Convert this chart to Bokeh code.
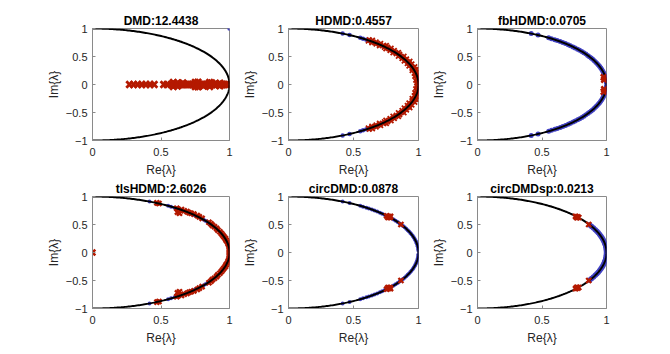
import numpy as np
from bokeh.plotting import figure
from bokeh.layouts import gridplot
from bokeh.models import Range1d, FixedTicker
from bokeh.embed import file_html
from bokeh.resources import INLINE

# ---------------- data ----------------
titles = ["DMD:12.4438", "HDMD:0.4557", "fbHDMD:0.0705",
          "tlsHDMD:2.6026", "circDMD:0.0878", "circDMDsp:0.0213"]
x_ticks = [0, 0.5, 1]
y_ticks = [-1, -0.5, 0, 0.5, 1]

# true eigenvalues (upper half-plane angles, degrees; conjugates mirrored)
true_ang_deg = [65.4, 62.0, 56.5, 55.0, 53.2, 51.8, 50.1, 48.6, 47.0, 45.3, 43.9,
                42.2, 40.8, 39.1, 37.6, 36.0, 34.5, 32.9, 31.3, 29.8, 28.2, 26.7,
                25.1, 23.5, 22.0, 20.4, 18.9, 17.3, 15.7, 14.2, 12.6, 11.1, 9.5,
                7.9, 6.4, 4.8, 3.3, 1.7]
sp_ang_deg = [29.5, 27.8, 26.0, 24.1, 22.3, 20.6, 18.7, 16.9, 15.2, 13.4, 11.6,
              9.8, 8.1, 6.3, 4.5, 2.8, 1.0]
dmd_true_re = [1.0]
dmd_true_im = [1.0]

# DMD estimates
dmd_re = [0.27, 0.30, 0.33, 0.36, 0.39, 0.42, 0.45, 0.52, 0.545, 0.575, 0.59, 0.60,
          0.61, 0.62, 0.635, 0.65, 0.66, 0.675, 0.69, 0.70, 0.715, 0.73, 0.745,
          0.755, 0.765, 0.775, 0.79, 0.80, 0.815, 0.83, 0.84, 0.855, 0.865, 0.875,
          0.89, 0.905, 0.92, 0.935, 0.95, 0.965, 0.98, 0.99,
          0.59, 0.59, 0.62, 0.62, 0.66, 0.75, 0.75, 0.77, 0.77, 0.81, 0.855, 0.855,
          0.87, 0.93, 0.93]
dmd_im = [0.0] * 42 + [0.035, -0.035, 0.03, -0.03, 0.03, 0.035, -0.035, 0.04, -0.04,
                       -0.03, 0.035, -0.035, 0.03, 0.025, -0.025]

# HDMD estimates (upper half: angle deg, radius)
hdmd_ang = [52.3, 51.6, 50.8, 50.1, 49.3, 48.5, 47.8, 47.0, 46.1, 45.4, 44.6, 43.7,
            42.9, 42.0, 41.2, 40.3, 39.5, 38.6, 37.7, 36.9, 36.0, 35.1, 34.2, 33.3,
            32.4, 31.5, 30.6, 29.7, 28.8, 27.8, 26.9, 26.0, 25.0, 24.1, 23.1, 22.2,
            21.2, 20.3, 19.3, 18.3, 17.3, 16.4, 15.4, 14.4, 13.4, 12.4, 11.4, 10.4,
            9.4, 8.4, 7.3, 6.3, 5.3, 4.3, 3.2, 2.2, 1.2, 0.3]
hdmd_rad = [1.015, 0.985, 1.025, 1.000, 0.980, 1.020, 1.005, 0.985, 1.025, 1.000,
            0.980, 1.015, 1.030, 0.990, 1.015, 0.980, 1.025, 1.000, 0.985, 1.020,
            1.005, 0.980, 1.025, 0.990, 1.015, 1.000, 0.980, 1.025, 1.005, 0.985,
            1.020, 1.000, 0.980, 1.025, 1.010, 0.985, 1.020, 1.000, 0.980, 1.025,
            1.005, 0.990, 1.020, 0.980, 1.025, 1.000, 0.985, 1.020, 1.005, 0.980,
            1.025, 0.990, 1.015, 0.980, 1.025, 1.000, 0.985, 1.020]

# fbHDMD estimates
fb_re = [0.978, 0.982, 0.982, 0.978]
fb_im = [0.130, 0.085, -0.085, -0.130]

# tlsHDMD estimates (upper half; conjugates mirrored) + origin
tls_re = [0.47, 0.485, 0.615, 0.625, 0.62, 0.635, 0.65, 0.67, 0.69, 0.705, 0.72,
          0.74, 0.765, 0.78, 0.80, 0.85, 0.865, 0.875, 0.89, 0.905, 0.915, 0.93,
          0.94, 0.95, 0.96, 0.97, 0.975, 0.985, 0.99, 0.995, 1.0, 1.0, 1.0, 1.0]
tls_im = [0.885, 0.875, 0.79, 0.765, 0.72, 0.70, 0.765, 0.745, 0.73, 0.71, 0.70,
          0.685, 0.66, 0.635, 0.61, 0.54, 0.51, 0.485, 0.46, 0.43, 0.40, 0.37,
          0.34, 0.31, 0.28, 0.25, 0.22, 0.19, 0.16, 0.13, 0.10, 0.07, 0.04, 0.015]
tls_origin_re = [0.0]
tls_origin_im = [0.0]

# circDMD / circDMDsp estimates (upper half; conjugates mirrored)
circ_re = [0.755, 0.77, 0.78, 0.765, 0.785, 0.865]
circ_im = [0.655, 0.64, 0.625, 0.625, 0.645, 0.50]
circsp_re = [0.76, 0.775, 0.785, 0.77, 0.862]
circsp_im = [0.645, 0.635, 0.625, 0.62, 0.50]

# ---------------- styling ----------------
RED = "#b41900"
BLUE = "#4242c4"
AXC = "#8a8a8a"
TXT = "#262626"
FONT = "Liberation Sans"


def conj(re, im):
    return list(re) + list(re), list(im) + [-v for v in im]


def polar(ang, rad=None):
    a = np.deg2rad(np.asarray(ang, dtype=float))
    r = np.ones_like(a) if rad is None else np.asarray(rad, dtype=float)
    return conj(r * np.cos(a), r * np.sin(a))


theta = np.linspace(-np.pi / 2, np.pi / 2, 300)
circ_x = np.cos(theta)
circ_y = np.sin(theta)

FRAME_W = 137
FRAME_HS = [115, 117]
LEFTS = [92, 42, 41]
TOPS = [28, 15]
BOTTOMS = [36, 36]
RIGHT = 10


def make_fig(i):
    row, col = divmod(i, 3)
    L, T, B = LEFTS[col], TOPS[row], BOTTOMS[row]
    p = figure(width=L + FRAME_W + RIGHT, height=T + FRAME_HS[row] + B,
               x_range=Range1d(0, 1), y_range=Range1d(-1, 1),
               output_backend="svg", toolbar_location=None,
               min_border_left=L, min_border_right=RIGHT,
               min_border_top=T, min_border_bottom=B,
               title=titles[i])
    p.title.text_font = FONT
    p.title.text_font_size = "12px"
    p.title.text_font_style = "bold"
    p.title.text_color = "black"
    p.title.align = "center"
    p.title.standoff = 1
    p.title.offset = 0
    p.xgrid.visible = False
    p.ygrid.visible = False
    p.outline_line_color = AXC
    p.outline_line_alpha = 1.0
    p.xaxis.ticker = FixedTicker(ticks=x_ticks)
    p.yaxis.ticker = FixedTicker(ticks=y_ticks)
    p.xaxis.axis_label = "Re{λ}"
    p.yaxis.axis_label = "Im{λ}"
    for ax in (p.xaxis[0], p.yaxis[0]):
        ax.axis_label_text_font = FONT
        ax.axis_label_text_font_size = "12px"
        ax.axis_label_text_font_style = "normal"
        ax.axis_label_text_color = TXT
        ax.major_label_text_font = FONT
        ax.major_label_text_font_size = "11px"
        ax.major_label_text_color = TXT
        ax.axis_line_color = AXC
        ax.major_tick_line_color = AXC
        ax.major_tick_in = 3
        ax.major_tick_out = 0
        ax.minor_tick_line_color = None
    p.xaxis.major_label_standoff = 7
    p.xaxis.axis_label_standoff = 4
    p.yaxis.major_label_standoff = 5
    p.yaxis.axis_label_standoff = 2
    return p


figs = [make_fig(i) for i in range(6)]


def blue(p, x, y, size=4.5):
    p.scatter(x, y, marker="circle", size=size, fill_color=BLUE, line_color=None)


def red(p, x, y, size=8, lw=2.5):
    p.scatter(x, y, marker="x", size=size, line_color=RED, line_width=lw)


def curve(p):
    p.line(circ_x, circ_y, line_color="black", line_width=2)


tx, ty = polar(true_ang_deg)
sx, sy = polar(sp_ang_deg)

# 1 DMD
blue(figs[0], dmd_true_re, dmd_true_im)
red(figs[0], dmd_re, dmd_im, size=9, lw=2.8)
curve(figs[0])
# 2 HDMD
blue(figs[1], tx, ty)
hx, hy = polar(hdmd_ang, hdmd_rad)
red(figs[1], hx, hy, size=6, lw=1.8)
curve(figs[1])
# 3 fbHDMD
blue(figs[2], tx, ty, size=5)
curve(figs[2])
red(figs[2], fb_re, fb_im, size=8, lw=2.5)
# 4 tlsHDMD
blue(figs[3], tx, ty, size=4)
trx, tri = conj(tls_re, tls_im)
red(figs[3], trx, tri, size=7, lw=2.4)
red(figs[3], tls_origin_re, tls_origin_im, size=8, lw=2.6)
curve(figs[3])
# 5 circDMD
blue(figs[4], tx, ty, size=4)
curve(figs[4])
cx, cy = conj(circ_re, circ_im)
red(figs[4], cx, cy, size=7, lw=2.4)
# 6 circDMDsp
blue(figs[5], sx, sy, size=5.5)
curve(figs[5])
csx, csy = conj(circsp_re, circsp_im)
red(figs[5], csx, csy, size=7, lw=2.4)

grid = gridplot([figs[0:3], figs[3:6]], toolbar_location=None)

open("out.html", "w").write(file_html(grid, INLINE))
